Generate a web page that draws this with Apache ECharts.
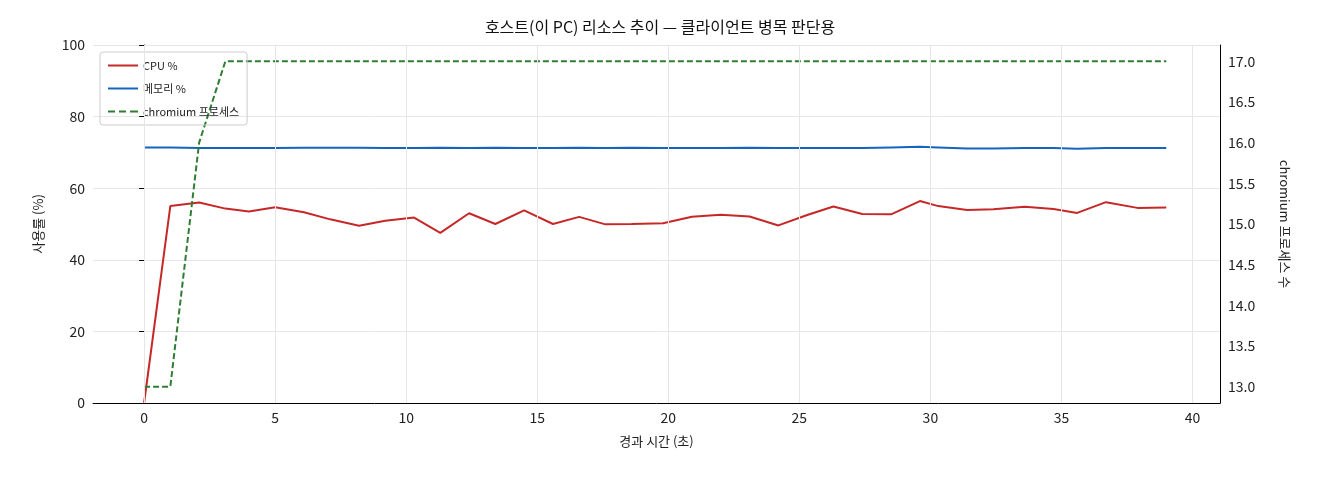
<!DOCTYPE html><html><head><meta charset="utf-8">
<script src="https://cdn.jsdelivr.net/npm/echarts@6/dist/echarts.min.js"></script>
<style>body{margin:0}#c{width:1320px;height:480px}</style></head><body><div id="c"></div>
<script>
const times=[0,1.0,2.1,3.1,4.0,5.0,6.1,7.1,8.2,9.2,10.3,11.3,12.4,13.4,14.5,15.6,16.6,17.6,18.6,19.8,20.9,22.0,23.1,24.2,25.3,26.3,27.4,28.5,29.6,30.3,31.4,32.4,33.6,34.7,35.6,36.7,37.9,39.0];
const cpu=[0,55,56,54.3,53.5,54.7,53.3,51.3,49.5,50.9,51.8,47.5,53,50,53.8,50,52,49.9,50,50.2,52,52.6,52.1,49.6,52.5,54.9,52.8,52.7,56.4,55,53.9,54.1,54.8,54.2,53.1,56.1,54.5,54.6];
const mem=[71.4,71.4,71.2,71.2,71.2,71.2,71.3,71.3,71.3,71.2,71.2,71.3,71.2,71.3,71.2,71.2,71.3,71.2,71.3,71.2,71.2,71.2,71.3,71.2,71.2,71.2,71.2,71.4,71.6,71.4,71.1,71.1,71.2,71.2,71.0,71.2,71.2,71.2];
const chrom=[13,13,16,17,17,17,17,17,17,17,17,17,17,17,17,17,17,17,17,17,17,17,17,17,17,17,17,17,17,17,17,17,17,17,17,17,17,17];
const xTicks=[0,5,10,15,20,25,30,35,40];
const F='"Noto Sans CJK KR","DejaVu Sans",sans-serif';
const pair=a=>times.map((t,i)=>[t,a[i]]);
const near=(v,s)=>Math.abs(v/s-Math.round(v/s))<1e-6;
const AL={color:'#222',fontSize:14,fontFamily:F};
const NT={color:'#222',fontSize:13,fontFamily:F};
const LN={show:true,lineStyle:{color:'#000'}};
echarts.init(document.getElementById('c')).setOption({
animation:false,
title:{text:'호스트(이 PC) 리소스 추이 — 클라이언트 병목 판단용',left:'center',top:14,textStyle:{fontFamily:F,fontSize:16,fontWeight:'normal',color:'#111'}},
grid:{left:93,right:100,top:45,bottom:77},
legend:{orient:'vertical',left:100,top:52,itemWidth:30,itemHeight:2,itemGap:12,borderColor:'#ccc',borderWidth:1,borderRadius:3,padding:[8,8],textStyle:{fontFamily:F,fontSize:11,color:'#222'},
 data:[{name:'CPU %',icon:'rect'},{name:'메모리 %',icon:'rect'},{name:'chromium 프로세스',icon:'path://M0,0h7v2h-7zM11,0h7v2h-7zM22,0h8v2h-8z'}]},
xAxis:{type:'value',min:-1.95,max:41.05,interval:0.05,name:'경과 시간 (초)',nameLocation:'middle',nameGap:32,nameTextStyle:NT,axisLine:LN,axisTick:{show:false},splitLine:{show:false},
 axisLabel:Object.assign({},AL,{showMinLabel:false,showMaxLabel:false,formatter:v=>(near(v,5)&&v>-0.01)?String(Math.round(v)):''})},
yAxis:[{type:'value',min:0,max:100,interval:20,name:'사용률 (%)',nameLocation:'middle',nameGap:48,nameTextStyle:NT,axisLine:LN,axisTick:{show:true,lineStyle:{color:'#000'}},axisLabel:AL,splitLine:{lineStyle:{color:'#e6e6e6'}}},
 {type:'value',min:12.8,max:17.2,interval:0.1,position:'right',name:'chromium 프로세스 수',nameLocation:'middle',nameGap:58,nameRotate:-90,nameTextStyle:NT,axisLine:LN,axisTick:{show:false},splitLine:{show:false},
 axisLabel:Object.assign({},AL,{showMinLabel:false,showMaxLabel:false,formatter:v=>near(v,0.5)?(Math.round(v*2)/2).toFixed(1):''})}],
series:[
{name:'CPU %',type:'line',data:pair(cpu),symbol:'none',lineStyle:{color:'#c62828',width:2},itemStyle:{color:'#c62828'},
 markLine:{silent:true,symbol:'none',label:{show:false},lineStyle:{color:'#e6e6e6',type:'solid',width:1},data:xTicks.map(t=>({xAxis:t}))}},
{name:'메모리 %',type:'line',data:pair(mem),symbol:'none',lineStyle:{color:'#1565c0',width:2},itemStyle:{color:'#1565c0'}},
{name:'chromium 프로세스',type:'line',yAxisIndex:1,data:pair(chrom),symbol:'none',lineStyle:{color:'#2e7d32',width:2,type:[6,3]},itemStyle:{color:'#2e7d32'}}
]});
</script></body></html>
